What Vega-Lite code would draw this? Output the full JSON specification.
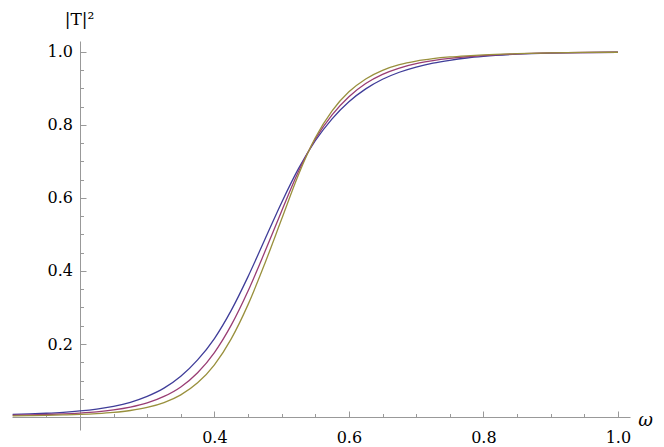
{
  "$schema": "https://vega.github.io/schema/vega-lite/v6.json",
  "width": 618,
  "height": 389,
  "autosize": "none",
  "padding": {"left": 12, "top": 41, "right": 34, "bottom": 17},
  "background": "white",
  "config": {
    "view": {"stroke": null},
    "axis": {"grid": false, "domainColor": "#999999", "tickColor": "#999999", "labelFont": "DejaVu Serif", "labelFontSize": 16, "labelColor": "#000000", "titleColor": "#000000", "domainWidth": 1, "tickWidth": 1}
  },
  "data": {
    "values": [
      {"w": 0.1, "s": "a", "T": 0.0070}, {"w": 0.125, "s": "a", "T": 0.0084}, {"w": 0.15, "s": "a", "T": 0.0103}, {"w": 0.175, "s": "a", "T": 0.0129},
      {"w": 0.2, "s": "a", "T": 0.0166}, {"w": 0.225, "s": "a", "T": 0.0218}, {"w": 0.25, "s": "a", "T": 0.0293}, {"w": 0.275, "s": "a", "T": 0.0403},
      {"w": 0.3, "s": "a", "T": 0.0565}, {"w": 0.325, "s": "a", "T": 0.0790}, {"w": 0.35, "s": "a", "T": 0.1116}, {"w": 0.375, "s": "a", "T": 0.1564},
      {"w": 0.4, "s": "a", "T": 0.2150}, {"w": 0.425, "s": "a", "T": 0.2921}, {"w": 0.45, "s": "a", "T": 0.3846}, {"w": 0.475, "s": "a", "T": 0.4863},
      {"w": 0.5, "s": "a", "T": 0.5878}, {"w": 0.525, "s": "a", "T": 0.6803}, {"w": 0.55, "s": "a", "T": 0.7568}, {"w": 0.575, "s": "a", "T": 0.8168},
      {"w": 0.6, "s": "a", "T": 0.8636}, {"w": 0.625, "s": "a", "T": 0.8989}, {"w": 0.65, "s": "a", "T": 0.9252}, {"w": 0.675, "s": "a", "T": 0.9445},
      {"w": 0.7, "s": "a", "T": 0.9587}, {"w": 0.725, "s": "a", "T": 0.9694}, {"w": 0.75, "s": "a", "T": 0.9773}, {"w": 0.775, "s": "a", "T": 0.9835},
      {"w": 0.8, "s": "a", "T": 0.9880}, {"w": 0.85, "s": "a", "T": 0.9939}, {"w": 0.9, "s": "a", "T": 0.9970}, {"w": 0.95, "s": "a", "T": 0.9985},
      {"w": 1.0, "s": "a", "T": 0.9993},

      {"w": 0.1, "s": "b", "T": 0.0048}, {"w": 0.125, "s": "b", "T": 0.0057}, {"w": 0.15, "s": "b", "T": 0.0069}, {"w": 0.175, "s": "b", "T": 0.0085},
      {"w": 0.2, "s": "b", "T": 0.0109}, {"w": 0.225, "s": "b", "T": 0.0142}, {"w": 0.25, "s": "b", "T": 0.0193}, {"w": 0.275, "s": "b", "T": 0.0269},
      {"w": 0.3, "s": "b", "T": 0.0384}, {"w": 0.325, "s": "b", "T": 0.0563}, {"w": 0.35, "s": "b", "T": 0.0824}, {"w": 0.375, "s": "b", "T": 0.1213},
      {"w": 0.4, "s": "b", "T": 0.1765}, {"w": 0.425, "s": "b", "T": 0.2516}, {"w": 0.45, "s": "b", "T": 0.3452}, {"w": 0.475, "s": "b", "T": 0.4526},
      {"w": 0.5, "s": "b", "T": 0.5646}, {"w": 0.525, "s": "b", "T": 0.6726}, {"w": 0.55, "s": "b", "T": 0.7613}, {"w": 0.575, "s": "b", "T": 0.8278},
      {"w": 0.6, "s": "b", "T": 0.8776}, {"w": 0.625, "s": "b", "T": 0.9137}, {"w": 0.65, "s": "b", "T": 0.9388}, {"w": 0.675, "s": "b", "T": 0.9561},
      {"w": 0.7, "s": "b", "T": 0.9680}, {"w": 0.725, "s": "b", "T": 0.9763}, {"w": 0.75, "s": "b", "T": 0.9824}, {"w": 0.775, "s": "b", "T": 0.9869},
      {"w": 0.8, "s": "b", "T": 0.9902}, {"w": 0.85, "s": "b", "T": 0.9948}, {"w": 0.9, "s": "b", "T": 0.9973}, {"w": 0.95, "s": "b", "T": 0.9986},
      {"w": 1.0, "s": "b", "T": 0.9993},

      {"w": 0.1, "s": "c", "T": 0.0033}, {"w": 0.125, "s": "c", "T": 0.0039}, {"w": 0.15, "s": "c", "T": 0.0046}, {"w": 0.175, "s": "c", "T": 0.0057},
      {"w": 0.2, "s": "c", "T": 0.0071}, {"w": 0.225, "s": "c", "T": 0.0093}, {"w": 0.25, "s": "c", "T": 0.0126}, {"w": 0.275, "s": "c", "T": 0.0178},
      {"w": 0.3, "s": "c", "T": 0.0261}, {"w": 0.325, "s": "c", "T": 0.0395}, {"w": 0.35, "s": "c", "T": 0.0607}, {"w": 0.375, "s": "c", "T": 0.0936},
      {"w": 0.4, "s": "c", "T": 0.1431}, {"w": 0.425, "s": "c", "T": 0.2142}, {"w": 0.45, "s": "c", "T": 0.3079}, {"w": 0.475, "s": "c", "T": 0.4207},
      {"w": 0.5, "s": "c", "T": 0.5424}, {"w": 0.525, "s": "c", "T": 0.6638}, {"w": 0.55, "s": "c", "T": 0.7649}, {"w": 0.575, "s": "c", "T": 0.8389},
      {"w": 0.6, "s": "c", "T": 0.8909}, {"w": 0.625, "s": "c", "T": 0.9262}, {"w": 0.65, "s": "c", "T": 0.9498}, {"w": 0.675, "s": "c", "T": 0.9651},
      {"w": 0.7, "s": "c", "T": 0.9751}, {"w": 0.725, "s": "c", "T": 0.9818}, {"w": 0.75, "s": "c", "T": 0.9864}, {"w": 0.775, "s": "c", "T": 0.9896},
      {"w": 0.8, "s": "c", "T": 0.9921}, {"w": 0.85, "s": "c", "T": 0.9955}, {"w": 0.9, "s": "c", "T": 0.9975}, {"w": 0.95, "s": "c", "T": 0.9987},
      {"w": 1.0, "s": "c", "T": 0.9993}
    ]
  },
  "layer": [
    {
      "mark": {"type": "line", "interpolate": "monotone", "strokeWidth": 1.3},
      "encoding": {
        "x": {
          "field": "w", "type": "quantitative",
          "scale": {"domain": [0.099, 1.018], "nice": false, "zero": false},
          "axis": {
            "orient": "bottom", "offset": -13, "values": [0.4, 0.6, 0.8, 1.0], "format": ".1f",
            "tickSize": -6, "labelPadding": 18, "labelFlush": false, "labelOverlap": false,
            "title": "ω", "titleX": 633, "titleY": 8, "titleFont": "DejaVu Serif", "titleFontStyle": "italic",
            "titleFontSize": 18, "titleFontWeight": "normal", "titleAlign": "center", "titleBaseline": "alphabetic"
          }
        },
        "y": {
          "field": "T", "type": "quantitative",
          "scale": {"domain": [-0.0356, 1.0301], "nice": false, "zero": false},
          "axis": {
            "orient": "left", "offset": -68, "values": [0.2, 0.4, 0.6, 0.8, 1.0], "format": ".1f",
            "tickSize": -6, "labelPadding": 13.5, "labelFlush": false, "labelOverlap": false,
            "title": "|T|²", "titleAngle": 0, "titleX": -1, "titleY": -17, "titleFont": "DejaVu Serif",
            "titleFontSize": 17, "titleFontWeight": "normal", "titleAlign": "center", "titleBaseline": "alphabetic"
          }
        },
        "color": {
          "field": "s", "type": "nominal",
          "scale": {"domain": ["a", "b", "c"], "range": ["#3f3d99", "#993d74", "#99903d"]},
          "legend": null
        }
      }
    },
    {
      "mark": {"type": "line", "strokeOpacity": 0},
      "encoding": {
        "x": {
          "field": "w", "type": "quantitative",
          "axis": {
            "orient": "bottom", "offset": -13, "values": [0.15, 0.25, 0.3, 0.35, 0.45, 0.5, 0.55, 0.65, 0.7, 0.75, 0.85, 0.9, 0.95],
            "tickSize": -3.5, "labels": false, "domain": false, "title": null
          }
        },
        "y": {
          "field": "T", "type": "quantitative",
          "axis": {
            "orient": "left", "offset": -68, "values": [0.05, 0.1, 0.15, 0.25, 0.3, 0.35, 0.45, 0.5, 0.55, 0.65, 0.7, 0.75, 0.85, 0.9, 0.95],
            "tickSize": -3.5, "labels": false, "domain": false, "title": null
          }
        },
        "detail": {"field": "s", "type": "nominal"}
      }
    }
  ],
  "resolve": {"axis": {"x": "independent", "y": "independent"}}
}
